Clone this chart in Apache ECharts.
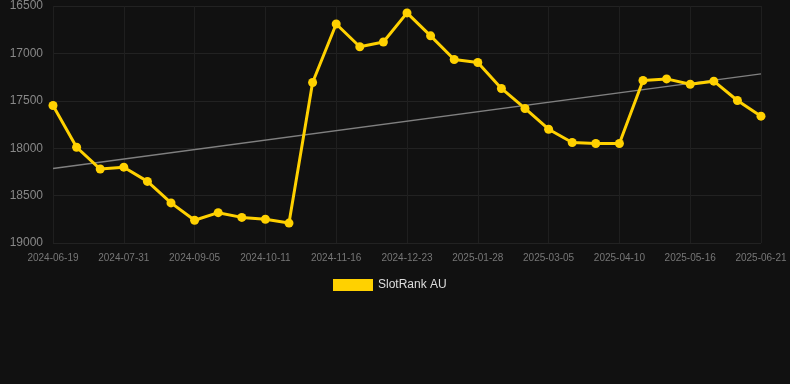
<!DOCTYPE html>
<html>
<head>
<meta charset="utf-8">
<script src="https://cdn.jsdelivr.net/npm/echarts@6/dist/echarts.min.js"></script>
<style>
html,body{margin:0;padding:0;background:#111111;}
#chart{width:790px;height:384px;}
</style>
</head>
<body>
<div id="chart"></div>
<script>
const categories = [
  "2024-06-19","2024-07-03","2024-07-17","2024-07-31","2024-08-12","2024-08-24",
  "2024-09-05","2024-09-17","2024-09-29","2024-10-11","2024-10-23","2024-11-04",
  "2024-11-16","2024-11-28","2024-12-10","2024-12-23","2025-01-04","2025-01-16",
  "2025-01-28","2025-02-09","2025-02-21","2025-03-05","2025-03-17","2025-03-29",
  "2025-04-10","2025-04-22","2025-05-04","2025-05-16","2025-05-28","2025-06-09",
  "2025-06-21"
];
const slotRankAU = [
  17550, 17990, 18220, 18200, 18350, 18577,
  18760, 18680, 18730, 18750, 18790, 17307,
  16690, 16930, 16880, 16573, 16815, 17064,
  17096, 17370, 17581, 17800, 17940, 17950,
  17950, 17286, 17269, 17325, 17293, 17497,
  17662
];
const trendStart = 18214;
const trendEnd = 17216;
const yTicks = { min: 16500, max: 19000, interval: 500 };

const trendData = categories.map((c, i) =>
  i === 0 ? trendStart : (i === categories.length - 1 ? trendEnd : null));

const chart = echarts.init(document.getElementById('chart'), null, { renderer: 'canvas' });
chart.setOption({
  backgroundColor: '#111111',
  animation: false,
  grid: { left: 53, right: 29, top: 6, bottom: 141, containLabel: false },
  legend: {
    data: ['SlotRank AU'],
    top: 279,
    left: 333,
    icon: 'rect',
    itemWidth: 40,
    itemHeight: 12,
    itemGap: 10,
    padding: 0,
    textStyle: { color: '#dddddd', fontSize: 12, fontFamily: 'Liberation Sans, Arial, sans-serif' }
  },
  xAxis: {
    type: 'category',
    data: categories,
    boundaryGap: false,
    axisLine: { show: false },
    axisTick: { show: false },
    axisLabel: {
      interval: 2,
      color: '#777777',
      fontSize: 10,
      margin: 10,
      fontFamily: 'Liberation Sans, Arial, sans-serif'
    },
    splitLine: { show: true, interval: 2, lineStyle: { color: '#1f1f1f', width: 1 } }
  },
  yAxis: {
    type: 'value',
    inverse: true,
    min: yTicks.min,
    max: yTicks.max,
    interval: yTicks.interval,
    axisLine: { show: false },
    axisTick: { show: false },
    axisLabel: {
      color: '#888888',
      fontSize: 12,
      margin: 10,
      formatter: v => String(v),
      fontFamily: 'Liberation Sans, Arial, sans-serif'
    },
    splitLine: { show: true, lineStyle: { color: '#222222', width: 1 } }
  },
  series: [
    {
      name: 'SlotRank AU',
      type: 'line',
      data: slotRankAU,
      symbol: 'circle',
      symbolSize: 9,
      lineStyle: { color: '#FFD100', width: 3 },
      itemStyle: { color: '#FFD100' },
      z: 3
    },
    {
      name: 'Trend',
      type: 'line',
      data: trendData,
      connectNulls: true,
      symbol: 'none',
      lineStyle: { color: '#808080', width: 1.5 },
      itemStyle: { color: '#808080' },
      z: 2
    }
  ]
});
</script>
</body>
</html>
